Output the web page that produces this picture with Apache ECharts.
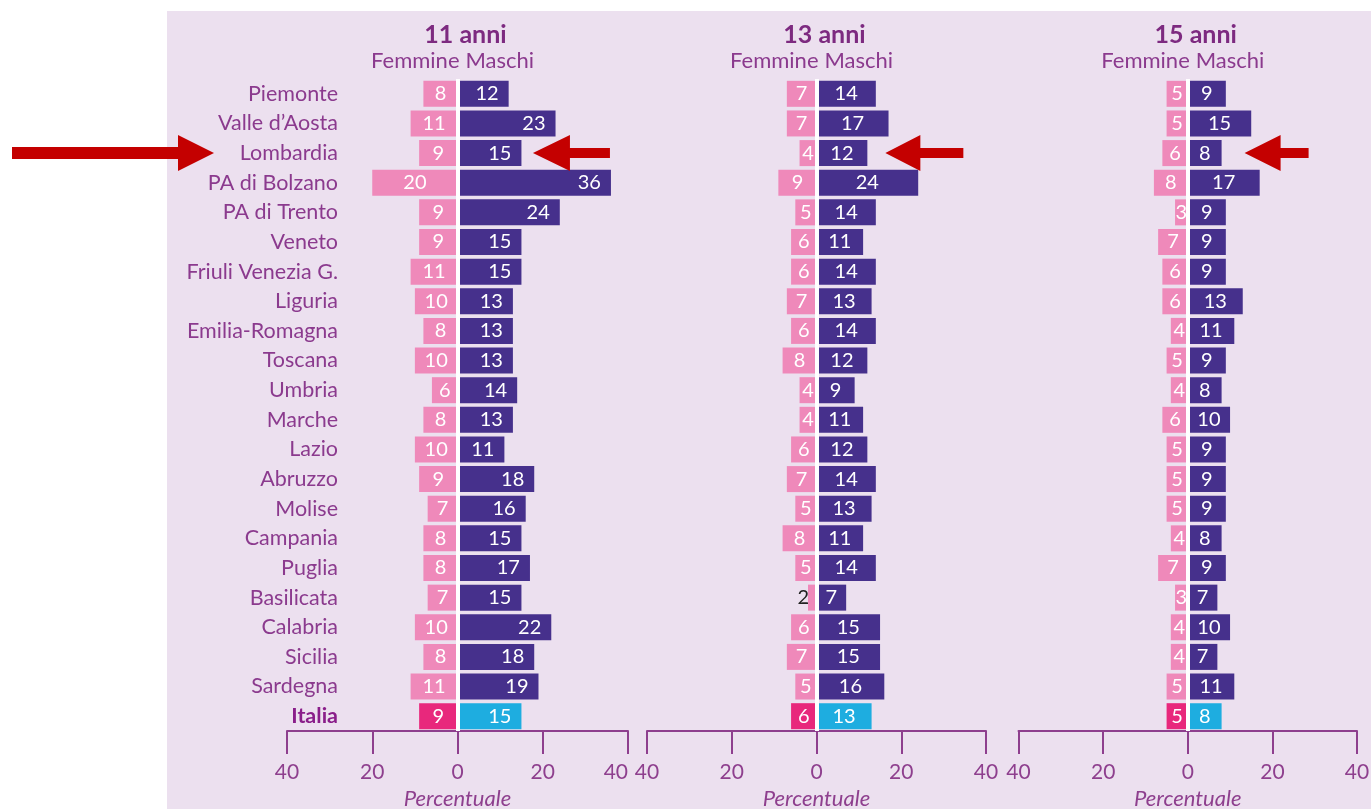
<!DOCTYPE html>
<html>
<head>
<meta charset="utf-8">
<script src="https://cdn.jsdelivr.net/npm/echarts@6/dist/echarts.min.js"></script>
<style>
html,body{margin:0;padding:0;background:#ffffff;}
#bg{position:absolute;left:167px;top:11px;width:1204px;height:798px;background:#ECE0EF;}
#chart{position:absolute;left:0;top:0;width:1371px;height:809px;}
</style>
</head>
<body>
<div id="bg"></div>
<div id="chart"></div>
<script>
const regions = ["Piemonte","Valle d\u2019Aosta","Lombardia","PA di Bolzano","PA di Trento","Veneto","Friuli Venezia G.","Liguria","Emilia-Romagna","Toscana","Umbria","Marche","Lazio","Abruzzo","Molise","Campania","Puglia","Basilicata","Calabria","Sicilia","Sardegna","Italia"];
const panelTitles = ["11 anni","13 anni","15 anni"];
const femmine11 = [8,11,9,20,9,9,11,10,8,10,6,8,10,9,7,8,8,7,10,8,11,9];
const maschi11  = [12,23,15,36,24,15,15,13,13,13,14,13,11,18,16,15,17,15,22,18,19,15];
const femmine13 = [7,7,4,9,5,6,6,7,6,8,4,4,6,7,5,8,5,2,6,7,5,6];
const maschi13  = [14,17,12,24,14,11,14,13,14,12,9,11,12,14,13,11,14,7,15,15,16,13];
const femmine15 = [5,5,6,8,3,7,6,6,4,5,4,6,5,5,5,4,7,3,4,4,5,5];
const maschi15  = [9,15,8,17,9,9,9,13,11,9,8,10,9,9,9,8,9,7,10,7,11,8];
const xTicks = [-40,-20,0,20,40];
const highlightRegion = "Lombardia";

const FONT = "Lato";
const PURPLE_TXT = "#8B3A8E";
const AXIS_COL = "#8E3F8E";
const PINK = "#EF89BA", PURPLE = "#46308C", PINK_IT = "#E8287C", CYAN = "#1EADE0";
const RED = "#C40000";

const femmine = [femmine11, femmine13, femmine15];
const maschi = [maschi11, maschi13, maschi15];
const grids = [
  {left:287, width:341, top:79, bottom:78, outerBoundsMode:'none', containLabel:false},
  {left:647, width:339, top:79, bottom:78, outerBoundsMode:'none', containLabel:false},
  {left:1018.5, width:338.5, top:79, bottom:78, outerBoundsMode:'none', containLabel:false}
];
const arrowPaths = [
  {path:'path://M0,18 L37,0 L37,13 L77,13 L77,23 L37,23 L37,36 Z', size:[77,36], off:50},
  {path:'path://M0,18 L35,0 L35,13 L78,13 L78,23 L35,23 L35,36 Z', size:[78,36], off:57},
  {path:'path://M0,18 L36,0 L36,13 L64,13 L64,23 L36,23 L36,36 Z', size:[64,36], off:55}
];

const chart = echarts.init(document.getElementById('chart'));
const last = regions.length - 1;
const xAxes = [], yAxes = [], series = [];
for (let i = 0; i < 3; i++) {
  xAxes.push({
    gridIndex:i, type:'value', min:xTicks[0], max:xTicks[xTicks.length-1], interval:xTicks[1]-xTicks[0],
    axisLine:{show:true, onZero:false, lineStyle:{color:AXIS_COL, width:2}},
    axisTick:{show:true, length:23, lineStyle:{color:AXIS_COL, width:2}},
    splitLine:{show:false},
    axisLabel:{formatter:v=>String(Math.abs(v)), fontFamily:FONT, fontSize:21, color:AXIS_COL, margin:31,
      alignMaxLabel: i===0 ? 'right' : null},
    name:'Percentuale', nameLocation:'middle', nameGap:56,
    nameTextStyle:{fontFamily:FONT, fontSize:22, fontStyle:'italic', color:AXIS_COL}
  });
  yAxes.push({
    gridIndex:i, type:'category', data:regions, inverse:true,
    axisLine:{show:false}, axisTick:{show:false}, splitLine:{show:false},
    axisLabel:{show:i===0, margin:-51, fontFamily:FONT, fontSize:21.5, color:PURPLE_TXT,
      formatter:v=> v==='Italia' ? '{b|Italia}' : v,
      rich:{b:{fontFamily:FONT, fontSize:21.5, fontWeight:'bold', color:'#8A1E8A'}}}
  });
  const fData = femmine[i].map((v,k)=>{
    const item = {value:-v};
    if (k===last) item.itemStyle = {color:PINK_IT};
    if (v < 3) item.label = {position:'left', distance:-1, color:'#222'};
    return item;
  });
  const mData = maschi[i].map((v,k)=> k===last ? {value:v, itemStyle:{color:CYAN}} : v);
  series.push({
    type:'bar', name:'Femmine '+panelTitles[i], xAxisIndex:i, yAxisIndex:i, stack:'s'+i,
    data:fData, barWidth:26, itemStyle:{color:PINK},
    label:{show:true, position:'inside', formatter:p=>String(Math.abs(p.value)), color:'#fff', fontFamily:FONT, fontSize:20},
    emphasis:{disabled:true}
  });
  const hi = regions.indexOf(highlightRegion);
  const mp = [{coord:[maschi[i][hi], highlightRegion], symbol:arrowPaths[i].path, symbolSize:arrowPaths[i].size, symbolOffset:[arrowPaths[i].off,0], symbolKeepAspect:false}];
  if (i===0) mp.push({coord:[xTicks[0], highlightRegion], symbol:'path://M202,18 L166,0 L166,12 L0,12 L0,24 L166,24 L166,36 Z', symbolSize:[202,36], symbolOffset:[-174,0], symbolKeepAspect:false});
  series.push({
    type:'bar', name:'Maschi '+panelTitles[i], xAxisIndex:i, yAxisIndex:i, stack:'s'+i,
    data:mData, barWidth:26, itemStyle:{color:PURPLE},
    label:{show:true, position: i===0 ? 'insideRight' : 'inside', distance:10, color:'#fff', fontFamily:FONT, fontSize:20},
    emphasis:{disabled:true},
    markLine:{silent:true, symbol:'none', label:{show:false}, data:[{xAxis:0}], lineStyle:{color:'#ffffff', width:4, type:'solid'}, emphasis:{disabled:true}},
    markPoint:{silent:true, label:{show:false}, itemStyle:{color:RED}, data:mp}
  });
}

chart.setOption({
  animation:false,
  backgroundColor:'transparent',
  grid:grids,
  xAxis:xAxes, yAxis:yAxes, series:series
});

const graphics = [];
for (let i = 0; i < 3; i++) {
  const x0 = chart.convertToPixel({xAxisIndex:i}, 0);
  graphics.push({type:'text', x:x0+8, y:35, style:{text:panelTitles[i], textAlign:'center', textVerticalAlign:'middle', fontFamily:FONT, fontSize:25, fontWeight:'bold', fill:'#7D2A80'}});
  graphics.push({type:'text', x:x0+2, y:61, style:{text:'Femmine', textAlign:'right', textVerticalAlign:'middle', fontFamily:FONT, fontSize:22, fill:PURPLE_TXT}});
  graphics.push({type:'text', x:x0+8, y:61, style:{text:'Maschi', textAlign:'left', textVerticalAlign:'middle', fontFamily:FONT, fontSize:22, fill:PURPLE_TXT}});
}
chart.setOption({graphic:graphics});
</script>
</body>
</html>
